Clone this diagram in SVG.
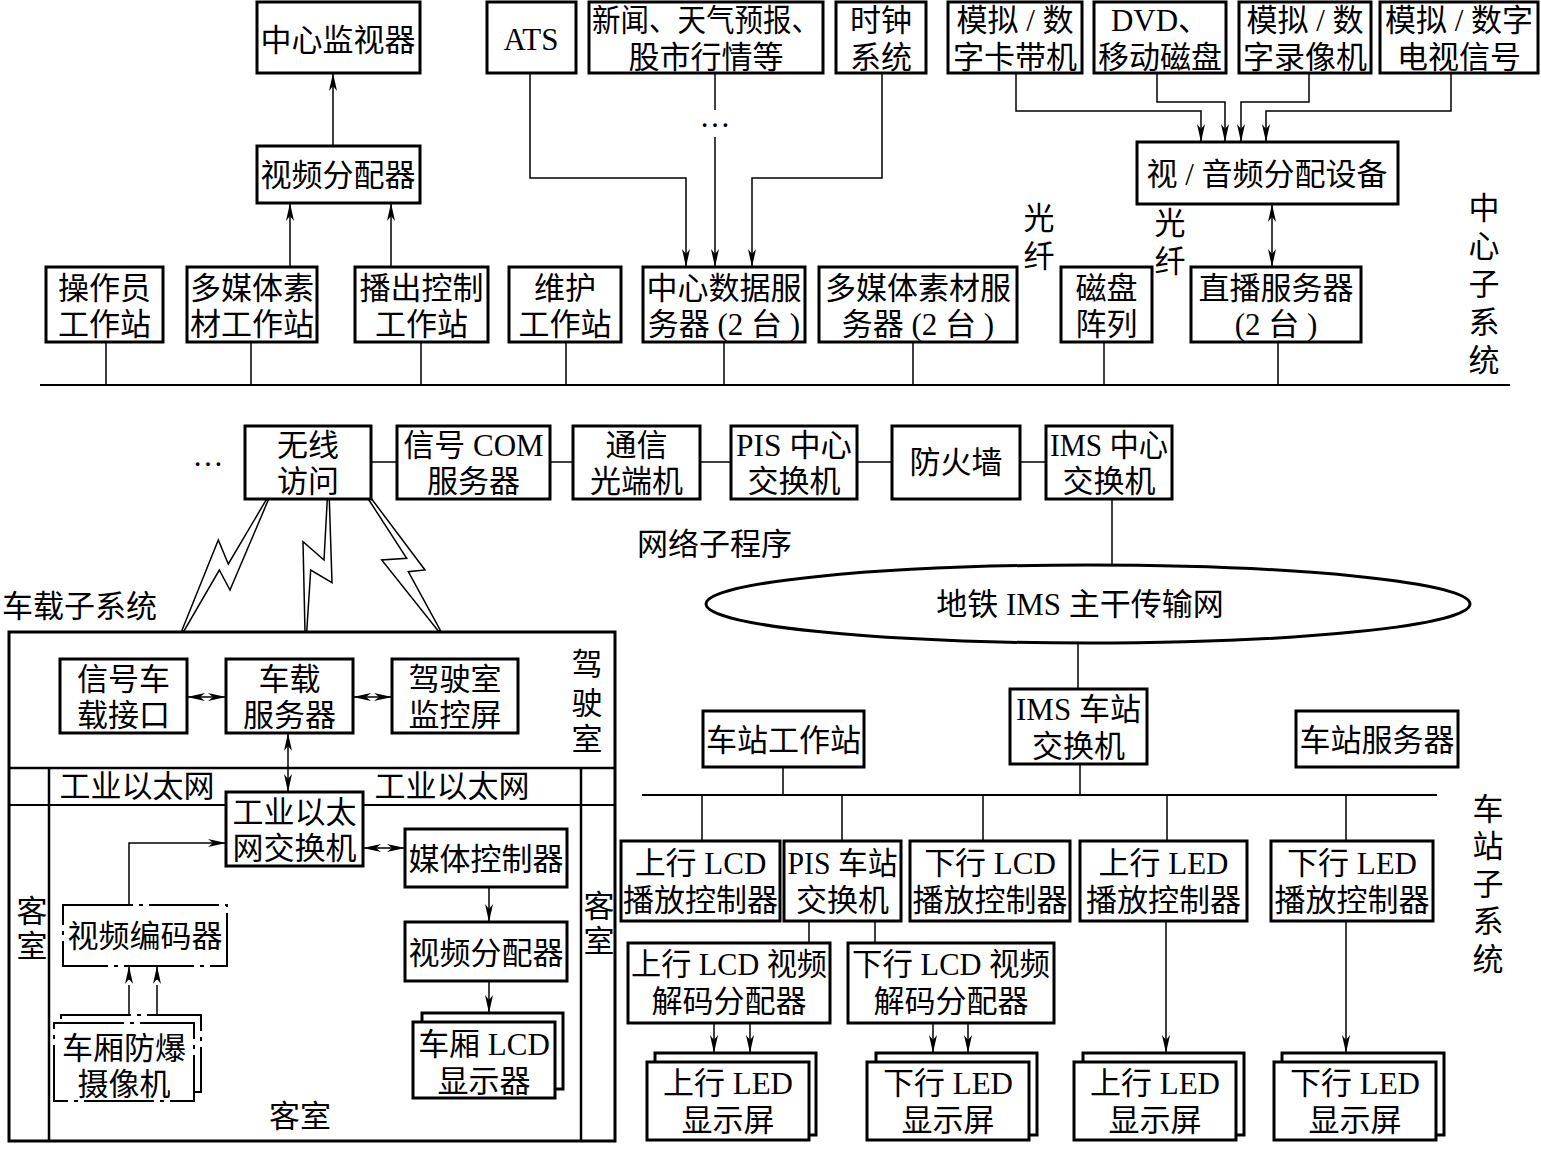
<svg xmlns="http://www.w3.org/2000/svg" width="1541" height="1149" viewBox="0 0 1541 1149">
<style>
text{font-family:"Liberation Serif","Noto Sans CJK SC",serif;font-size:31px;fill:#000;text-anchor:middle}
.l{text-anchor:start}
.b{fill:#fff;stroke:#000;stroke-width:3}
.d{fill:#fff;stroke:#000;stroke-width:2;stroke-dasharray:70 6 4 6}
.c{fill:none;stroke:#000;stroke-width:1.5}
.cd{fill:none;stroke:#000;stroke-width:1.5;stroke-dasharray:30 5 3 5}
.bus{fill:none;stroke:#000;stroke-width:2}
.bolt{fill:#fff;stroke:#000;stroke-width:1.5;stroke-linejoin:miter}
.a{marker-end:url(#ah)}
.aa{marker-start:url(#ah);marker-end:url(#ah)}
</style>
<defs>
<marker id="ah" markerUnits="userSpaceOnUse" viewBox="0 0 18 10" refX="18" refY="5" markerWidth="18" markerHeight="10" orient="auto-start-reverse">
<path d="M0,1 L18,5 L0,9 L5,5 Z" fill="#000"/>
</marker>
</defs>
<rect width="1541" height="1149" fill="#fff"/>

<g id="connectors">
<line class="c a" x1="333" y1="146" x2="333" y2="73"/>
<line class="c a" x1="290" y1="267" x2="290" y2="203"/>
<line class="c a" x1="391" y1="267" x2="391" y2="203"/>
<polyline class="c a" points="530,73 530,178 686,178 686,267"/>
<line class="c" x1="715" y1="73" x2="715" y2="110"/>
<line class="c a" x1="715" y1="137" x2="715" y2="267"/>
<polyline class="c a" points="882,73 882,178 752,178 752,267"/>
<polyline class="c a" points="1016,73 1016,111 1201,111 1201,142"/>
<polyline class="c a" points="1157,73 1157,102 1225,102 1225,142"/>
<polyline class="c a" points="1309,73 1309,102 1241,102 1241,142"/>
<polyline class="c a" points="1451,73 1451,111 1266,111 1266,142"/>
<line class="c aa" x1="1272" y1="204" x2="1272" y2="267"/>
<line class="bus" x1="40" y1="385" x2="1510" y2="385"/>
<path class="c" d="M106,342V385M251,342V385M421,342V385M566,342V385M724,342V385M913,342V385M1104,342V385M1278,342V385"/>
<path class="c" d="M371,462H397M550,462H573M700,462H731M857,462H892M1020,462H1046"/>
<line class="c" x1="1112" y1="499" x2="1112" y2="565"/>
<line class="c" x1="1078" y1="643" x2="1078" y2="689"/>
<path class="c" d="M783,767V795M1080,764V795"/>
<line class="bus" x1="642" y1="795" x2="1437" y2="795"/>
<path class="c" d="M702,795V841M842,795V841M983,795V841M1167,795V841M1346,795V841"/>
<path class="c" d="M809,921V943M875,921V943"/>
<line class="c a" x1="714" y1="1023" x2="714" y2="1053"/>
<line class="c a" x1="750" y1="1023" x2="750" y2="1053"/>
<line class="c a" x1="933" y1="1023" x2="933" y2="1053"/>
<line class="c a" x1="968" y1="1023" x2="968" y2="1053"/>
<line class="c a" x1="1166" y1="921" x2="1166" y2="1053"/>
<line class="c a" x1="1346" y1="921" x2="1346" y2="1053"/>
<polygon class="bolt" points="181.7,631 218.3,540 228.3,564 266.7,499 268.7,499 230,590 219.3,570 184,631"/>
<polygon class="bolt" points="305,632 303,541.7 324,560 327.3,499 329.3,499 332,582.7 310.7,570 306.7,632"/>
<polygon class="bolt" points="368.3,499 406.7,558.3 381.7,560 438.3,631 440.7,631 408.3,571.7 425,570 371.7,499"/>
<line class="c aa" x1="187" y1="697" x2="226" y2="697"/>
<line class="c aa" x1="353" y1="697" x2="392" y2="697"/>
<line class="c aa" x1="288" y1="733" x2="288" y2="792"/>
<line class="c aa" x1="363" y1="848" x2="405" y2="848"/>
<line class="c a" x1="489" y1="887" x2="489" y2="922"/>
<line class="c a" x1="489" y1="981" x2="489" y2="1013"/>
<polyline class="c a" points="129,905 129,843 226,843"/>
<line class="cd a" x1="129" y1="1015" x2="129" y2="966"/>
<line class="cd a" x1="157" y1="1015" x2="157" y2="966"/>
</g>

<g id="labels">
<text x="715" y="127">…</text>
<text x="208" y="466">…</text>
<text x="1039" y="229">光</text><text x="1039" y="267">纤</text>
<text x="1170" y="234">光</text><text x="1170" y="272">纤</text>
<text x="1484" y="219">中</text><text x="1484" y="257">心</text><text x="1484" y="295">子</text><text x="1484" y="333">系</text><text x="1484" y="371">统</text>
<text class="l" x="637" y="555">网络子程序</text>
<text class="l" x="2" y="617">车载子系统</text>
<text x="1488" y="820">车</text><text x="1488" y="857">站</text><text x="1488" y="895">子</text><text x="1488" y="932">系</text><text x="1488" y="970">统</text>
</g>

<g id="vehicle-frame">
<rect x="9" y="632" width="606" height="509" fill="none" stroke="#000" stroke-width="3"/>
<line x1="9" y1="768" x2="615" y2="768" stroke="#000" stroke-width="2.5"/>
<line x1="9" y1="805" x2="615" y2="805" stroke="#000" stroke-width="2"/>
<line x1="49" y1="768" x2="49" y2="1141" stroke="#000" stroke-width="2.5"/>
<line x1="581" y1="768" x2="581" y2="1141" stroke="#000" stroke-width="2.5"/>
<text x="587" y="675">驾</text><text x="587" y="714">驶</text><text x="587" y="750">室</text>
<text x="137" y="797">工业以太网</text>
<text x="452" y="797">工业以太网</text>
<text x="32" y="922">客</text><text x="32" y="957">室</text>
<text x="599" y="917">客</text><text x="599" y="952">室</text>
<text x="300" y="1127">客室</text>
</g>

<g id="n-center-monitor"><rect class="b" x="257" y="2" width="163" height="71"/><text x="338" y="51">中心监视器</text></g>
<g id="n-ats"><rect class="b" x="487" y="2" width="89" height="71"/><text x="531" y="50">ATS</text></g>
<g id="n-news"><rect class="b" x="589" y="2" width="234" height="71"/><text x="706" y="31" textLength="228" lengthAdjust="spacingAndGlyphs">新闻、天气预报、</text><text x="706" y="68">股市行情等</text></g>
<g id="n-clock"><rect class="b" x="836" y="2" width="90" height="71"/><text x="881" y="31">时钟</text><text x="881" y="68">系统</text></g>
<g id="n-tape"><rect class="b" x="948" y="2" width="134" height="71"/><text x="1015" y="31">模拟 / 数</text><text x="1015" y="68">字卡带机</text></g>
<g id="n-dvd"><rect class="b" x="1094" y="2" width="132" height="71"/><text x="1160" y="31">DVD、</text><text x="1160" y="68">移动磁盘</text></g>
<g id="n-vcr"><rect class="b" x="1239" y="2" width="132" height="71"/><text x="1305" y="31">模拟 / 数</text><text x="1305" y="68">字录像机</text></g>
<g id="n-tv"><rect class="b" x="1380" y="2" width="158" height="71"/><text x="1459" y="31">模拟 / 数字</text><text x="1459" y="68">电视信号</text></g>
<g id="n-av-dist"><rect class="b" x="1137" y="142" width="261" height="62"/><text x="1267" y="185">视 / 音频分配设备</text></g>
<g id="n-video-dist"><rect class="b" x="257" y="146" width="163" height="57"/><text x="338" y="186">视频分配器</text></g>

<g id="n-operator"><rect class="b" x="46" y="267" width="117" height="75"/><text x="104.5" y="299">操作员</text><text x="104.5" y="335">工作站</text></g>
<g id="n-media-ws"><rect class="b" x="187" y="267" width="130" height="75"/><text x="252" y="299">多媒体素</text><text x="252" y="335">材工作站</text></g>
<g id="n-play-ws"><rect class="b" x="355" y="267" width="133" height="75"/><text x="421.5" y="299">播出控制</text><text x="421.5" y="335">工作站</text></g>
<g id="n-maint-ws"><rect class="b" x="509" y="267" width="112" height="75"/><text x="565" y="299">维护</text><text x="565" y="335">工作站</text></g>
<g id="n-data-srv"><rect class="b" x="643" y="267" width="162" height="75"/><text x="724" y="299">中心数据服</text><text x="724" y="335">务器 (2 台 )</text></g>
<g id="n-media-srv"><rect class="b" x="819" y="267" width="198" height="75"/><text x="918" y="299">多媒体素材服</text><text x="918" y="335">务器 (2 台 )</text></g>
<g id="n-disk"><rect class="b" x="1061" y="267" width="91" height="75"/><text x="1106.5" y="299">磁盘</text><text x="1106.5" y="335">阵列</text></g>
<g id="n-live-srv"><rect class="b" x="1191" y="267" width="170" height="75"/><text x="1276" y="299">直播服务器</text><text x="1276" y="335">(2 台 )</text></g>

<g id="n-wireless"><rect class="b" x="245" y="426" width="126" height="73"/><text x="308" y="456">无线</text><text x="308" y="492">访问</text></g>
<g id="n-com"><rect class="b" x="397" y="426" width="153" height="73"/><text x="473.5" y="456">信号 COM</text><text x="473.5" y="492">服务器</text></g>
<g id="n-optical"><rect class="b" x="573" y="426" width="127" height="73"/><text x="636.5" y="456">通信</text><text x="636.5" y="492">光端机</text></g>
<g id="n-pis-center"><rect class="b" x="731" y="426" width="126" height="73"/><text x="794" y="456" textLength="116" lengthAdjust="spacingAndGlyphs">PIS 中心</text><text x="794" y="492">交换机</text></g>
<g id="n-firewall"><rect class="b" x="892" y="426" width="128" height="73"/><text x="956" y="473">防火墙</text></g>
<g id="n-ims-center"><rect class="b" x="1046" y="426" width="126" height="73"/><text x="1109" y="456" textLength="118" lengthAdjust="spacingAndGlyphs">IMS 中心</text><text x="1109" y="492">交换机</text></g>
<g id="n-backbone"><ellipse cx="1088" cy="604" rx="382" ry="39" fill="#fff" stroke="#000" stroke-width="3"/><text x="1080" y="615">地铁 IMS 主干传输网</text></g>

<g id="n-ims-station"><rect class="b" x="1010" y="689" width="137" height="75"/><text x="1078.5" y="720">IMS 车站</text><text x="1078.5" y="757">交换机</text></g>
<g id="n-station-ws"><rect class="b" x="703" y="711" width="161" height="56"/><text x="783.5" y="751">车站工作站</text></g>
<g id="n-station-srv"><rect class="b" x="1296" y="711" width="162" height="56"/><text x="1377" y="751">车站服务器</text></g>
<g id="n-up-lcd-ctl"><rect class="b" x="621" y="841" width="159" height="80"/><text x="700.5" y="874">上行 LCD</text><text x="700.5" y="911">播放控制器</text></g>
<g id="n-pis-station"><rect class="b" x="784" y="841" width="117" height="80"/><text x="842.5" y="874" textLength="110" lengthAdjust="spacingAndGlyphs">PIS 车站</text><text x="842.5" y="911">交换机</text></g>
<g id="n-down-lcd-ctl"><rect class="b" x="910" y="841" width="160" height="80"/><text x="990" y="874">下行 LCD</text><text x="990" y="911">播放控制器</text></g>
<g id="n-up-led-ctl"><rect class="b" x="1080" y="841" width="167" height="80"/><text x="1163.5" y="874">上行 LED</text><text x="1163.5" y="911">播放控制器</text></g>
<g id="n-down-led-ctl"><rect class="b" x="1271" y="841" width="162" height="80"/><text x="1352" y="874">下行 LED</text><text x="1352" y="911">播放控制器</text></g>
<g id="n-up-dec"><rect class="b" x="628" y="943" width="202" height="80"/><text x="729" y="975" textLength="196" lengthAdjust="spacingAndGlyphs">上行 LCD 视频</text><text x="729" y="1012">解码分配器</text></g>
<g id="n-down-dec"><rect class="b" x="848" y="943" width="206" height="80"/><text x="951" y="975" textLength="198" lengthAdjust="spacingAndGlyphs">下行 LCD 视频</text><text x="951" y="1012">解码分配器</text></g>
<g id="n-led1"><rect class="b" x="655" y="1053" width="161" height="82"/><rect class="b" x="647" y="1062" width="162" height="78"/><text x="728" y="1094">上行 LED</text><text x="728" y="1131">显示屏</text></g>
<g id="n-led2"><rect class="b" x="876" y="1053" width="161" height="82"/><rect class="b" x="867" y="1062" width="162" height="78"/><text x="948" y="1094">下行 LED</text><text x="948" y="1131">显示屏</text></g>
<g id="n-led3"><rect class="b" x="1083" y="1053" width="161" height="82"/><rect class="b" x="1074" y="1062" width="162" height="78"/><text x="1155" y="1094">上行 LED</text><text x="1155" y="1131">显示屏</text></g>
<g id="n-led4"><rect class="b" x="1282" y="1053" width="162" height="82"/><rect class="b" x="1274" y="1062" width="162" height="78"/><text x="1355" y="1094">下行 LED</text><text x="1355" y="1131">显示屏</text></g>

<g id="n-signal-if"><rect class="b" x="60" y="659" width="127" height="74"/><text x="123.5" y="690">信号车</text><text x="123.5" y="726">载接口</text></g>
<g id="n-vehicle-srv"><rect class="b" x="226" y="659" width="127" height="74"/><text x="289.5" y="690">车载</text><text x="289.5" y="726">服务器</text></g>
<g id="n-cab-monitor"><rect class="b" x="392" y="659" width="126" height="74"/><text x="455" y="690">驾驶室</text><text x="455" y="726">监控屏</text></g>
<g id="n-eth-switch"><rect class="b" x="226" y="792" width="137" height="74"/><text x="294.5" y="823">工业以太</text><text x="294.5" y="859">网交换机</text></g>
<g id="n-media-ctl"><rect class="b" x="405" y="829" width="162" height="58"/><text x="486" y="870">媒体控制器</text></g>
<g id="n-car-video-dist"><rect class="b" x="405" y="922" width="162" height="59"/><text x="486" y="964">视频分配器</text></g>
<g id="n-car-lcd"><rect class="b" x="422" y="1013" width="141" height="76"/><rect class="b" x="413" y="1022" width="142" height="76"/><text x="484" y="1055">车厢 LCD</text><text x="484" y="1092">显示器</text></g>
<g id="n-encoder"><rect class="d" x="63" y="905" width="164" height="61"/><text x="145" y="947">视频编码器</text></g>
<g id="n-camera"><rect class="d" x="61" y="1015" width="140" height="77"/><rect class="d" x="54" y="1023" width="140" height="78"/><text x="124" y="1059">车厢防爆</text><text x="124" y="1095">摄像机</text></g>
</svg>
